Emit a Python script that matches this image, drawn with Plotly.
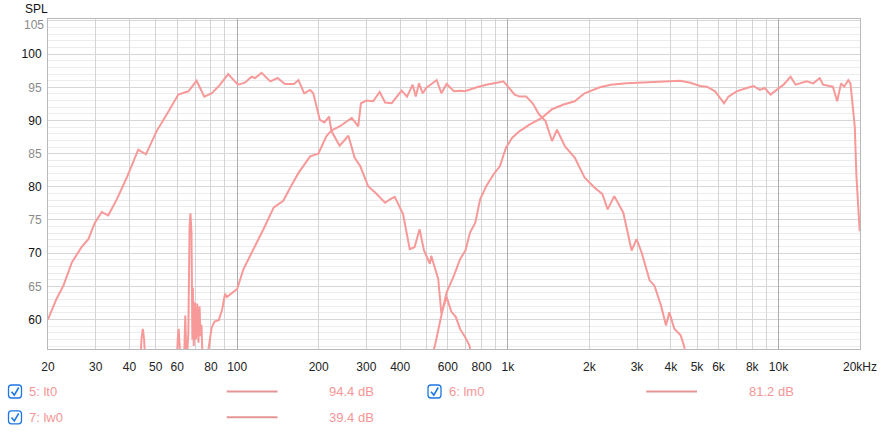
import plotly.graph_objects as go
import math

# ---------------- data ----------------
lt0_freq = [510, 538, 568, 594, 632, 666, 697, 725, 758, 790, 832, 886, 934, 984, 1038, 1106,
            1206, 1286, 1336, 1456, 1606, 1766, 1920, 2186, 2400, 2750, 3074, 3420, 3840, 4330,
            4720, 5130, 5440, 5830, 6080, 6290, 6530, 7000, 7630, 8080, 8530, 8900, 9340, 9810,
            10440, 11080, 11560, 12700, 13450, 14200, 14600, 15880, 16470, 17020, 17490, 18100,
            18440, 19130, 19400, 19950]
lt0_db = [53, 56.1, 60.6, 64.1, 66.6, 69.1, 70.4, 73.1, 74.6, 78.1, 80.1, 81.9, 83.1, 85.9, 87.4, 88.4,
          89.4, 90.1, 90.4, 91.7, 92.4, 92.9, 94.1, 95.0, 95.4, 95.6, 95.7, 95.7, 95.9, 96.0,
          95.7, 95.2, 95.1, 94.4, 93.4, 92.6, 93.6, 94.4, 94.9, 95.2, 94.6, 94.9, 93.9, 94.6,
          95.4, 96.6, 95.4, 95.9, 95.6, 96.4, 95.4, 95.1, 92.9, 95.6, 95.1, 96.1,
          95.6, 89.1, 81.6, 73.3]

lm0_freq = [40, 43.6, 44.3, 44.8, 45.3, 46.0, 50, 59.5, 60.3, 60.8, 61.3, 62.2, 63.6, 64.3, 65.0,
            66.0, 66.7, 67.2, 67.8, 68.3, 68.6, 69.1, 69.8, 70.4, 71.2, 71.9, 72.6, 73.2, 73.8,
            74.6, 76.5, 78.3, 80.5, 82.5, 85.5, 88, 90.2, 91.5, 93, 96, 100, 105.5, 114.5, 125,
            136.5, 148, 158, 168.5, 186, 199.4, 213.4, 223, 239, 265, 280, 286.5, 300, 318, 336,
            352, 372.5, 405, 424, 445, 457, 469.5, 485, 499, 546, 568, 594, 632, 666, 694, 768,
            832, 910, 962, 1002, 1059, 1106, 1168, 1235, 1305, 1378, 1456, 1519, 1626, 1766,
            1920, 2088, 2236, 2336, 2473, 2670, 2866, 2990, 3120, 3340, 3480, 3680, 3840, 3950,
            4120, 4350, 4470, 4650]
lm0_db = [50, 52, 57, 58.6, 57, 52, 48, 51, 57, 58.6, 56, 50, 53, 60.6, 53,
          58, 74, 76, 73, 57, 64.8, 56, 62.6, 57, 62.4, 56.5, 62, 57.5, 59.2,
          53, 48, 55.5, 58.8, 59.7, 59.9, 61.5, 63.9, 63.4, 63.6, 64.1, 64.6, 67.6, 70.4, 73.6,
          76.9, 77.9, 80.1, 82.1, 84.6, 85.0, 87.6, 88.5, 89.1, 90.4, 89.1, 92.6, 93.0, 92.9, 94.3,
          92.7, 92.6, 94.5, 93.6, 95.4, 93.6, 95.6, 94.1, 94.9, 96.1, 94.1, 95.5, 94.4, 94.5, 94.4, 95.0,
          95.4, 95.7, 95.9, 95.1, 93.9, 93.6, 93.6, 92.6, 90.9, 89.9, 86.9, 88.6, 86.1, 84.4,
          81.4, 79.9, 78.9, 76.6, 78.6, 76.1, 70.4, 72.1, 70.1, 65.9, 65.1, 62.1, 59.1, 61.1,
          58.6, 57.6, 56.1, 53]

lw0_freq = [20, 21.5, 22.8, 24.5, 26.6, 28.2, 29.8, 31.6, 33.4, 35.9, 39.1, 43.1, 46.0, 50.4, 54.9,
            60.6, 66, 70.8, 75.6, 80.6, 86, 92.6, 100.6, 106.8, 113, 116.5, 123, 132.5, 141, 150,
            162, 168.5, 176.8, 186, 191, 202, 210, 218.5, 223, 239, 257.6, 271.5, 285, 304.6, 324,
            352, 367, 382, 410, 434, 452, 472, 490, 515, 521, 553, 568, 594, 618, 642, 667, 694,
            721, 745]
lw0_db = [60.0, 63.1, 65.1, 68.6, 70.9, 72.1, 74.6, 76.2, 75.7, 78.1, 81.4, 85.6, 84.9, 88.4, 90.9,
          93.9, 94.4, 96.0, 93.6, 94.1, 95.3, 97.0, 95.4, 95.7, 96.6, 96.4, 97.2, 95.9, 96.4, 95.5,
          95.5, 96.1, 94.1, 94.6, 94.1, 90.1, 89.7, 90.6, 88.4, 86.2, 87.7, 84.4, 83.1, 80.1, 79.1,
          77.6, 78.1, 78.5, 75.9, 70.6, 70.9, 73.6, 70.4, 68.4, 69.6, 66.1, 60.9, 63.4, 61.2, 60.4, 58.5, 57.4,
          56.1, 53]

series_names = ["5: lt0", "6: lm0", "7: lw0"]
series_values = [94.4, 81.2, 39.4]  # dB shown in legend

x_grid = [20, 30, 40, 50, 60, 70, 80, 90,
          100, 200, 300, 400, 500, 600, 700, 800, 900,
          1000, 2000, 3000, 4000, 5000, 6000, 7000, 8000, 9000,
          10000, 20000]
x_labels = ["20", "30", "40", "50", "60", "", "80", "",
            "100", "200", "300", "400", "", "600", "", "800", "",
            "1k", "2k", "3k", "4k", "5k", "6k", "", "8k", "",
            "10k", "20kHz"]
x_decades = [100, 1000, 10000]
y_ticks = [60, 65, 70, 75, 80, 85, 90, 95, 100, 105]

# ---------------- style ----------------
CURVE = "rgb(248,153,153)"
LEG_TXT = "rgb(245,150,150)"
LEG_LINE = "rgb(228,150,150)"
BLUE = "rgb(28,118,228)"
GREY_LBL = "#8a8a8a"
FONT = "Liberation Sans, Arial, Helvetica, sans-serif"

W, H = 884, 432
PL, PT, PR, PB = 48, 19, 860, 349  # plot area in page pixels
L, T, R, B = PL, PT, W - PR, H - PB
PW, PH = PR - PL, PB - PT


def X(px):
    return (px - PL) / PW


def Y(py):
    return 1 - (py - PT) / PH


fig = go.Figure()
for f, d in [(lt0_freq, lt0_db), (lm0_freq, lm0_db), (lw0_freq, lw0_db)]:
    assert len(f) == len(d)
    fig.add_trace(go.Scatter(x=f, y=d, mode="lines",
                             line=dict(color=CURVE, width=2), showlegend=False,
                             hoverinfo="skip"))

# invisible trace for decade overlay axis
fig.add_trace(go.Scatter(x=[20, 20000], y=[60, 60], xaxis="x2", mode="lines",
                         line=dict(width=0), showlegend=False, hoverinfo="skip"))

xr = [math.log10(20), math.log10(20000)]
y_top = y_ticks[-1]
y_text = []
for v in y_ticks:
    c = "#111" if v % 10 == 0 else GREY_LBL
    # top label is drawn separately, nudged inside the plot like the original
    y_text.append("" if v == y_top else f"<span style='color:{c}'>{v}</span>")

fig.update_layout(
    width=W, height=H,
    margin=dict(l=L, r=R, t=T, b=B, pad=0, autoexpand=False),
    paper_bgcolor="white", plot_bgcolor="white",
    font=dict(family=FONT, size=12, color="#222"),
    xaxis=dict(type="log", range=xr, tickvals=x_grid, ticktext=x_labels,
               showgrid=True, gridcolor="rgb(212,212,212)", gridwidth=1,
               ticks="", ticklabelstandoff=7, automargin=False,
               showline=True, mirror=True, linecolor="rgb(185,185,185)", linewidth=1,
               zeroline=False, tickfont=dict(size=12, color="#222")),
    xaxis2=dict(type="log", range=xr, overlaying="x", tickvals=x_decades,
                showticklabels=False, showgrid=True, gridcolor="rgb(172,172,172)",
                gridwidth=1, ticks="", zeroline=False, automargin=False),
    yaxis=dict(range=[55.55, 105.3], tickvals=y_ticks, ticktext=y_text,
               showgrid=True, gridcolor="rgb(214,214,214)", gridwidth=1.3,
               minor=dict(dtick=1, tick0=0, showgrid=True, gridcolor="rgb(236,236,236)",
                          gridwidth=1, ticks=""),
               ticks="", ticklabelstandoff=3, automargin=False,
               showline=True, mirror=True, linecolor="rgb(185,185,185)", linewidth=1,
               zeroline=False, tickfont=dict(size=12)),
)

annotations = [
    dict(text="SPL", x=X(23), y=Y(8.5), xref="paper", yref="paper",
         xanchor="left", yanchor="middle", showarrow=False,
         font=dict(size=12, color="#111", family=FONT)),
    dict(text=str(y_top), x=X(45.5), y=Y(24.5), xref="paper", yref="paper",
         xanchor="right", yanchor="middle", showarrow=False,
         font=dict(size=12, color=GREY_LBL, family=FONT)),
]
shapes = []


def rrect(x0, y0, x1, y1, r):
    return (f"M {X(x0 + r)},{Y(y0)} L {X(x1 - r)},{Y(y0)} Q {X(x1)},{Y(y0)} {X(x1)},{Y(y0 + r)} "
            f"L {X(x1)},{Y(y1 - r)} Q {X(x1)},{Y(y1)} {X(x1 - r)},{Y(y1)} "
            f"L {X(x0 + r)},{Y(y1)} Q {X(x0)},{Y(y1)} {X(x0)},{Y(y1 - r)} "
            f"L {X(x0)},{Y(y0 + r)} Q {X(x0)},{Y(y0)} {X(x0 + r)},{Y(y0)} Z")


slots = [(0, 391.5), (419.5, 391.5), (0, 417.3)]
for name, val, (dx, cy) in zip(series_names, series_values, slots):
    bx = 8.5 + dx
    shapes.append(dict(type="path", xref="paper", yref="paper",
                       path=rrect(bx, cy - 6.5, bx + 13, cy + 6.5, 3),
                       line=dict(color=BLUE, width=1.3), fillcolor="white"))
    shapes.append(dict(type="path", xref="paper", yref="paper",
                       path=f"M {X(bx + 3)},{Y(cy + 0.2)} L {X(bx + 5.8)},{Y(cy + 3.6)} L {X(bx + 10.2)},{Y(cy - 4)}",
                       line=dict(color=BLUE, width=1.6)))
    shapes.append(dict(type="line", xref="paper", yref="paper",
                       x0=X(226.7 + dx), x1=X(277.5 + dx), y0=Y(cy), y1=Y(cy),
                       line=dict(color=LEG_LINE, width=2)))
    annotations.append(dict(text=name, x=X(27 + dx), y=Y(cy), xref="paper", yref="paper",
                            xanchor="left", yanchor="middle", showarrow=False,
                            font=dict(size=13, color=LEG_TXT, family=FONT)))
    annotations.append(dict(text=f"{val:.1f} dB", x=X(327 + dx), y=Y(cy), xref="paper",
                            yref="paper", xanchor="left", yanchor="middle", showarrow=False,
                            font=dict(size=13, color=LEG_TXT, family=FONT)))

fig.update_layout(annotations=annotations, shapes=shapes)
fig.write_html(
    "out.html",
    config={"displayModeBar": False},
    post_script=("document.documentElement.style.margin='0';"
                 "document.body.style.margin='0';"
                 "document.documentElement.style.overflow='hidden';"
                 "document.body.style.overflow='hidden';"
                 "window.scrollTo(0,0);"),
)
